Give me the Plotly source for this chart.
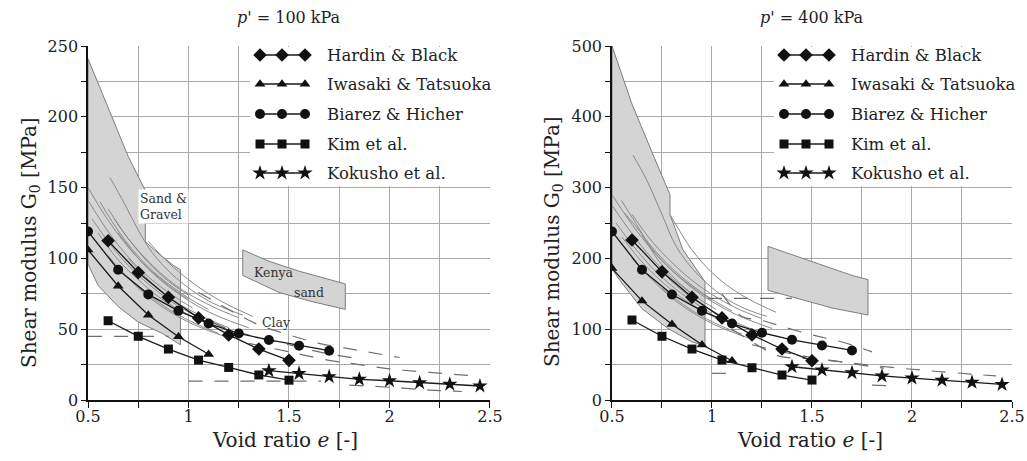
import plotly.graph_objects as go

# ---------------- marker series (void ratio e, shear modulus G0 in MPa) ----------------
hb_e = [0.60, 0.75, 0.90, 1.05, 1.20, 1.35, 1.50]
hb_g100 = [112.5, 90, 72.5, 58, 46, 36, 28]
hb_g400 = [226, 181, 145, 116, 92, 72, 55.5]

iw_e = [0.50, 0.65, 0.80, 0.95, 1.10]
iw_g100 = [106, 80.5, 60, 44.7, 32.3]
iw_g400 = [186, 140, 107, 78, 55.5]

bh_e = [0.50, 0.65, 0.80, 0.95, 1.10, 1.25, 1.40, 1.55, 1.70]
bh_g100 = [119, 92, 74.6, 63, 54, 47, 42.4, 38.4, 34.8]
bh_g400 = [238, 184, 149, 126, 108, 95, 85, 77, 70]

kim_e = [0.60, 0.75, 0.90, 1.05, 1.20, 1.35, 1.50]
kim_g100 = [56, 45, 36, 28.2, 23, 17.7, 14]
kim_g400 = [113, 90, 72, 56.5, 45.6, 35.3, 28.2]

ko_e = [1.40, 1.55, 1.70, 1.85, 2.00, 2.15, 2.30, 2.45]
ko_g100 = [20.7, 18.8, 16.5, 14.6, 13.6, 12.2, 11.1, 9.9]
ko_g400 = [47, 42.4, 38.6, 34, 31, 28, 25, 22]

series_names = ["Hardin & Black", "Iwasaki & Tatsuoka", "Biarez & Hicher", "Kim et al.", "Kokusho et al."]
series_symbols = ["diamond", "triangle-up", "circle", "square", "star"]
series_sizes = [10.5, 9.5, 10, 9, 11.5]

# ---------------- shaded ranges (closed outlines) ----------------
sand_gravel_100 = [(0.50, 241), (0.60, 207), (0.70, 172), (0.785, 148), (0.785, 112), (0.83, 106),
                   (0.88, 100), (0.925, 95), (0.96, 92), (0.96, 39), (0.87, 47), (0.75, 55),
                   (0.65, 66), (0.55, 81), (0.50, 96)]
kenya_100 = [(1.27, 106), (1.40, 98), (1.55, 91), (1.70, 85), (1.78, 82), (1.78, 64),
             (1.60, 70), (1.45, 76), (1.27, 88)]
sand_gravel_400 = [(0.50, 500), (0.60, 418), (0.70, 350), (0.79, 290), (0.79, 262), (0.855, 212),
                   (0.89, 198), (0.965, 167), (0.965, 77), (0.90, 82), (0.78, 101), (0.65, 129),
                   (0.55, 165), (0.50, 185)]
kenya_400 = [(1.28, 217), (1.40, 205), (1.55, 190), (1.70, 176), (1.78, 170), (1.78, 120),
             (1.60, 130), (1.45, 142), (1.28, 155)]

# ---------------- empirical correlations (thin grey curves) ----------------
corr_100 = [
    [(0.61, 157), (0.68, 139), (0.75, 120), (0.82, 104), (0.94, 86), (1.10, 70), (1.27, 60)],
    [(0.50, 150), (0.60, 127), (0.70, 108), (0.80, 93), (0.90, 81), (1.00, 71)],
    [(0.50, 141), (0.60, 119), (0.70, 101), (0.80, 87), (0.92, 74), (1.02, 65)],
    [(0.56, 140), (0.62, 126), (0.70, 110), (0.80, 94), (0.90, 82), (1.00, 72), (1.10, 64)],
    [(0.60, 135), (0.70, 114), (0.80, 98), (0.90, 85), (1.00, 75), (1.12, 66), (1.25, 58)],
    [(0.63, 128), (0.70, 114), (0.80, 97), (0.90, 84), (1.00, 74)],
    [(0.52, 128), (0.60, 112), (0.70, 95), (0.80, 82), (0.90, 71), (1.00, 62)],
    [(0.55, 118), (0.65, 99), (0.75, 85), (0.85, 73), (0.95, 64), (1.05, 57)],
    [(0.60, 102), (0.70, 86), (0.80, 73), (0.90, 63), (1.00, 55), (1.10, 49), (1.20, 44)],
    [(0.80, 112), (0.90, 97), (1.00, 85), (1.10, 75), (1.20, 67), (1.32, 59)],
    [(0.70, 100), (0.80, 85), (0.90, 73), (1.00, 64), (1.10, 57), (1.20, 51)],
    [(0.75, 80), (0.85, 69), (0.95, 60), (1.05, 53), (1.15, 47)],
    [(0.65, 118), (0.75, 100), (0.85, 86), (0.95, 75), (1.05, 66), (1.15, 59), (1.30, 51)],
]
clay_100 = [
    [(1.05, 76), (1.15, 68), (1.25, 60), (1.35, 53), (1.50, 46), (1.65, 40), (1.85, 35), (2.05, 30)],
    [(1.00, 62), (1.10, 56), (1.20, 50), (1.35, 44), (1.50, 39), (1.65, 34), (1.85, 29)],
    [(1.30, 40), (1.50, 34), (1.70, 28), (1.80, 26), (2.00, 22), (2.20, 19.5), (2.42, 17)],
    [(0.50, 45), (0.90, 45)],
    [(1.00, 13.4), (1.66, 13.4)],
    [(1.80, 10.5), (2.00, 9), (2.20, 7), (2.36, 6)],
]
corr_400 = [
    [(0.605, 346), (0.673, 311), (0.75, 262), (0.823, 216), (0.94, 174), (1.107, 137), (1.273, 118)],
    [(0.547, 282), (0.64, 240), (0.73, 198), (0.82, 170), (0.90, 150)],
    [(0.50, 290), (0.60, 248), (0.70, 212), (0.80, 183), (0.90, 160), (1.00, 141)],
    [(0.50, 275), (0.60, 235), (0.70, 200), (0.80, 172), (0.92, 146), (1.02, 128)],
    [(0.56, 265), (0.62, 245), (0.70, 216), (0.80, 186), (0.90, 162), (1.00, 142), (1.10, 126)],
    [(0.60, 262), (0.70, 224), (0.80, 194), (0.90, 169), (1.00, 149), (1.12, 130), (1.25, 115)],
    [(0.52, 250), (0.60, 220), (0.70, 187), (0.80, 161), (0.90, 140), (1.00, 122)],
    [(0.55, 230), (0.65, 195), (0.75, 167), (0.85, 144), (0.95, 126), (1.05, 112)],
    [(0.60, 200), (0.70, 170), (0.80, 144), (0.90, 124), (1.00, 108), (1.10, 96), (1.20, 86)],
    [(0.79, 262), (0.90, 212), (1.00, 180), (1.10, 157), (1.20, 140), (1.32, 124)],
    [(0.70, 196), (0.80, 167), (0.90, 144), (1.00, 126), (1.10, 112), (1.20, 100)],
    [(0.75, 158), (0.85, 136), (0.95, 118), (1.05, 104), (1.15, 93)],
    [(0.65, 232), (0.75, 197), (0.85, 170), (0.95, 148), (1.05, 131), (1.15, 117), (1.30, 101)],
]
clay_400 = [
    [(0.98, 143.6), (1.40, 143.6)],
    [(1.05, 150), (1.15, 118), (1.24, 113), (1.35, 104), (1.50, 92), (1.65, 82), (1.80, 68)],
    [(1.10, 100), (1.30, 66), (1.35, 61), (1.50, 58), (1.64, 54), (1.80, 47), (1.86, 45)],
    [(1.20, 78), (1.35, 68), (1.50, 60), (1.70, 52), (1.90, 46), (2.10, 41), (2.42, 34)],
    [(1.00, 37.7), (1.10, 37.7)],
    [(1.80, 21), (1.90, 20)],
]

FONT = "DejaVu Serif"
TEXT = "#222222"
GRID = "#a9a9a9"
BAND_FILL = "#d4d4d4"
BAND_LINE = "#7d7d7d"
CURVE = "#8a8a8a"

fig = go.Figure()


def xs(pts):
    return [p[0] for p in pts]


def ys(pts):
    return [p[1] for p in pts]


panels = [
    ("x", "y", sand_gravel_100, kenya_100, corr_100, clay_100,
     [hb_g100, iw_g100, bh_g100, kim_g100, ko_g100]),
    ("x2", "y2", sand_gravel_400, kenya_400, corr_400, clay_400,
     [hb_g400, iw_g400, bh_g400, kim_g400, ko_g400]),
]
series_e = [hb_e, iw_e, bh_e, kim_e, ko_e]

for xa, ya, sg, ken, corr, clay, gvals in panels:
    for band in (sg, ken):
        fig.add_trace(go.Scatter(x=xs(band) + [band[0][0]], y=ys(band) + [band[0][1]],
                                 mode="lines", fill="toself", fillcolor=BAND_FILL,
                                 line=dict(color=BAND_LINE, width=1),
                                 xaxis=xa, yaxis=ya, hoverinfo="skip", showlegend=False))
    for c in corr:
        fig.add_trace(go.Scatter(x=xs(c), y=ys(c), mode="lines",
                                 line=dict(color=CURVE, width=1, shape="spline"),
                                 xaxis=xa, yaxis=ya, hoverinfo="skip", showlegend=False))
    for c in clay:
        fig.add_trace(go.Scatter(x=xs(c), y=ys(c), mode="lines",
                                 line=dict(color="#6e6e6e", width=1.2, dash="14px,12px", shape="spline"),
                                 xaxis=xa, yaxis=ya, hoverinfo="skip", showlegend=False))
    for e_vals, g_vals, name, sym, sz in zip(series_e, gvals, series_names, series_symbols, series_sizes):
        fig.add_trace(go.Scatter(x=e_vals, y=g_vals, mode="lines+markers", name=name,
                                 line=dict(color="#1a1a1a", width=1.3),
                                 marker=dict(symbol=sym, size=sz, color="#111111"),
                                 xaxis=xa, yaxis=ya, showlegend=False))

# ---------------- hand-drawn legends on a full-page pixel overlay ----------------
legend_rows_y = [55, 84, 114, 144, 173]
for x_off in (0, 524):
    bx0, bx1, by0, by1 = 250 + x_off, 494 + x_off, 47, 186
    fig.add_trace(go.Scatter(x=[bx0, bx1, bx1, bx0, bx0], y=[by0, by0, by1, by1, by0],
                             mode="lines", fill="toself", fillcolor="white",
                             line=dict(color="white", width=0),
                             xaxis="x3", yaxis="y3", hoverinfo="skip", showlegend=False))
    for yy, name, sym, sz in zip(legend_rows_y, series_names, series_symbols, series_sizes):
        fig.add_trace(go.Scatter(x=[257 + x_off, 308 + x_off], y=[yy, yy], mode="lines",
                                 line=dict(color="#1a1a1a", width=1.3),
                                 xaxis="x3", yaxis="y3", hoverinfo="skip", showlegend=False))
        fig.add_trace(go.Scatter(x=[260 + x_off, 282 + x_off, 305 + x_off], y=[yy] * 3, mode="markers",
                                 marker=dict(symbol=sym, size=sz, color="#111111"),
                                 xaxis="x3", yaxis="y3", hoverinfo="skip", showlegend=False))
        fig.add_annotation(x=325 + x_off, y=yy, xref="x3", yref="y3", text=name, showarrow=False,
                           xanchor="left", yanchor="middle", font=dict(family=FONT, size=16.5, color=TEXT))

# ---------------- axes ----------------
x_ticks = [0.5, 0.75, 1.0, 1.25, 1.5, 1.75, 2.0, 2.25, 2.5]
x_labels = ["0.5", "", "1", "", "1.5", "", "2", "", "2.5"]
y100_ticks = list(range(0, 251, 25))
y100_labels = [str(v) if v % 50 == 0 else "" for v in y100_ticks]
y400_ticks = list(range(0, 501, 50))
y400_labels = [str(v) if v % 100 == 0 else "" for v in y400_ticks]

ydom = [0.1323, 0.9002]
common_x = dict(range=[0.5, 2.5], tickvals=x_ticks, ticktext=x_labels, showgrid=True, gridcolor=GRID,
                gridwidth=1.2, showline=True, linecolor="#111111", linewidth=1.5, ticks="outside",
                ticklen=6, tickcolor="#111111", tickwidth=1.2, zeroline=False, automargin=False,
                ticklabelstandoff=-5, tickfont=dict(family=FONT, size=16, color=TEXT))
common_y = dict(showgrid=True, gridcolor=GRID, gridwidth=1.2, showline=True, linecolor="#111111",
                linewidth=1.5, ticks="outside", ticklen=5, tickcolor="#111111", tickwidth=1.2,
                zeroline=False, automargin=False, tickfont=dict(family=FONT, size=16, color=TEXT), domain=ydom)

fig.update_layout(
    width=1027, height=461,
    margin=dict(l=0, r=0, t=0, b=0, pad=0, autoexpand=False),
    paper_bgcolor="white", plot_bgcolor="rgba(0,0,0,0)",
    showlegend=False,
    xaxis=dict(domain=[0.0857, 0.4771], anchor="y", **common_x),
    yaxis=dict(range=[0, 250], tickvals=y100_ticks, ticktext=y100_labels, anchor="x", **common_y),
    xaxis2=dict(domain=[0.5959, 0.9854], anchor="y2", **common_x),
    yaxis2=dict(range=[0, 500], tickvals=y400_ticks, ticktext=y400_labels, anchor="x2", **common_y),
    xaxis3=dict(domain=[0, 1], range=[0, 1027], visible=False, anchor="y3", fixedrange=True),
    yaxis3=dict(domain=[0, 1], range=[461, 0], visible=False, anchor="x3", fixedrange=True),
)

# ---------------- titles and labels ----------------
label_font = dict(family=FONT, size=20, color=TEXT)
for cx, txt in ((0.2814, "<i>p'</i> = 100 kPa"), (0.7907, "<i>p'</i> = 400 kPa")):
    fig.add_annotation(x=cx, y=0.961, xref="paper", yref="paper", text=txt, showarrow=False,
                       xanchor="center", yanchor="middle", font=dict(family=FONT, size=16, color=TEXT))
for cx in (0.2775, 0.7887):
    fig.add_annotation(x=cx, y=0.045, xref="paper", yref="paper", text="Void ratio <i>e</i> [-]",
                       xanchor="center", yanchor="middle", showarrow=False, font=label_font)
for cx in (0.0292, 0.5385):
    fig.add_annotation(x=cx, y=0.475, xref="paper", yref="paper", text="Shear modulus G<sub>0</sub> [MPa]",
                       xanchor="center", yanchor="middle", textangle=-90, showarrow=False, font=label_font)

small = dict(family=FONT, size=12.5, color="#333333")
fig.add_annotation(x=0.749, y=137, xref="x", yref="y", text="Sand &amp;<br>Gravel", showarrow=False,
                   xanchor="left", yanchor="middle", align="left", bgcolor="white", borderpad=1, font=small)
fig.add_annotation(x=1.316, y=90, xref="x", yref="y", text="Kenya", showarrow=False,
                   xanchor="left", yanchor="middle", font=small)
fig.add_annotation(x=1.515, y=76, xref="x", yref="y", text="sand", showarrow=False,
                   xanchor="left", yanchor="middle", font=small)
fig.add_annotation(x=1.356, y=55, xref="x", yref="y", text="Clay", showarrow=False,
                   xanchor="left", yanchor="middle", font=small)

fig.write_html("out.html")
